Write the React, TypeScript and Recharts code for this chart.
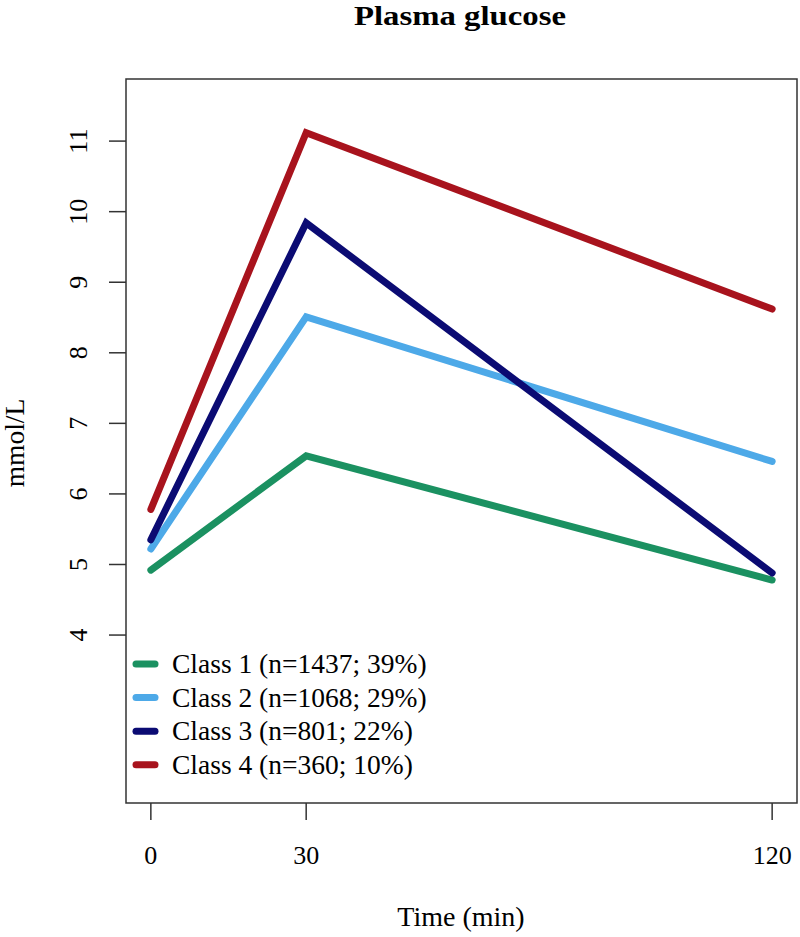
import React from 'react';
import { LineChart, Line, XAxis, YAxis, Legend, ReferenceArea, Label } from 'recharts';

const times = [0, 30, 120];
const class1 = [4.92, 6.54, 4.78];
const class2 = [5.22, 8.51, 6.46];
const class3 = [5.35, 9.84, 4.88];
const class4 = [5.78, 11.12, 8.62];
const seriesNames = [
  'Class 1 (n=1437; 39%)',
  'Class 2 (n=1068; 29%)',
  'Class 3 (n=801; 22%)',
  'Class 4 (n=360; 10%)',
];
const seriesColors = ['#1B9161', '#4DA9E8', '#0B0B73', '#A8131D'];
const xTicks = [0, 30, 120];
const yTicks = [4, 5, 6, 7, 8, 9, 10, 11];
const xDomain: [number, number] = [-4.8, 124.8];
const yDomain: [number, number] = [1.62, 11.88];
const title = 'Plasma glucose';
const xTitle = 'Time (min)';
const yTitle = 'mmol/L';

const data = times.map((t, i) => ({
  t,
  c1: class1[i],
  c2: class2[i],
  c3: class3[i],
  c4: class4[i],
}));
const keys = ['c1', 'c2', 'c3', 'c4'];

const FONT = '"Liberation Serif", "Times New Roman", serif';

const YTick = (props: any) => {
  const { y, payload } = props;
  return (
    <text
      x={87}
      y={y}
      transform={`rotate(-90 87 ${y})`}
      textAnchor="middle"
      fontSize={26}
      fontFamily={FONT}
      fill="#000"
    >
      {payload.value}
    </text>
  );
};

const XTick = (props: any) => {
  const { x, payload } = props;
  return (
    <text x={x} y={864} textAnchor="middle" fontSize={26} fontFamily={FONT} fill="#000">
      {payload.value}
    </text>
  );
};

const LegendContent = (props: any) => {
  const payload = props.payload || [];
  return (
    <svg width={800} height={937} style={{ position: 'absolute', left: 0, top: 0, overflow: 'visible', pointerEvents: 'none' }}>
      {payload.map((p: any, i: number) => {
        const cy = 664 + i * 33.6;
        return (
          <g key={i}>
            <line x1={136} x2={155} y1={cy} y2={cy} stroke={p.color} strokeWidth={7} strokeLinecap="round" />
            <text x={172} y={cy + 9} fontSize={27.5} fontFamily={FONT} fill="#000">
              {p.value}
            </text>
          </g>
        );
      })}
    </svg>
  );
};

export default function App() {
  return (
    <div style={{ position: 'absolute', left: 0, top: 0, width: 800, height: 937, background: '#fff' }}>
      <svg width={800} height={60} style={{ position: 'absolute', left: 0, top: 0 }}>
        <text
          x={460}
          y={25}
          textAnchor="middle"
          fontSize={28}
          fontWeight="bold"
          fontFamily={FONT}
          fill="#000"
          textLength={212}
          lengthAdjust="spacingAndGlyphs"
        >
          {title}
        </text>
      </svg>
      <div style={{ position: 'absolute', left: 0, top: 0 }}>
        <LineChart width={800} height={937} data={data} margin={{ top: 79, right: 3, bottom: 0, left: 0 }}>
          <XAxis
            dataKey="t"
            type="number"
            domain={xDomain}
            ticks={xTicks}
            allowDataOverflow
            height={134}
            tickSize={17}
            tickLine={{ stroke: '#333', strokeWidth: 1.5 }}
            axisLine={false}
            tick={<XTick />}
            interval={0}
          >
            <Label
              content={() => (
                <text x={461} y={926} textAnchor="middle" fontSize={28} fontFamily={FONT} fill="#000">
                  {xTitle}
                </text>
              )}
            />
          </XAxis>
          <YAxis
            type="number"
            domain={yDomain}
            ticks={yTicks}
            allowDataOverflow
            width={126}
            tickSize={17}
            tickLine={{ stroke: '#333', strokeWidth: 1.5 }}
            axisLine={false}
            tick={<YTick />}
            interval={0}
          >
            <Label
              content={() => (
                <text x={24} y={443} transform="rotate(-90 24 443)" textAnchor="middle" fontSize={27.5} fontFamily={FONT} fill="#000">
                  {yTitle}
                </text>
              )}
            />
          </YAxis>
          <ReferenceArea
            x1={xDomain[0]}
            x2={xDomain[1]}
            y1={yDomain[0]}
            y2={yDomain[1]}
            fill="none"
            fillOpacity={0}
            stroke="#333"
            strokeWidth={1.5}
            ifOverflow="visible"
          />
          {keys.map((k, i) => (
            <Line
              key={k}
              dataKey={k}
              name={seriesNames[i]}
              stroke={seriesColors[i]}
              strokeWidth={7}
              strokeLinecap="round"
              strokeLinejoin="miter"
              dot={false}
              activeDot={false}
              isAnimationActive={false}
            />
          ))}
          <Legend
            content={<LegendContent />}
            wrapperStyle={{ position: 'absolute', left: 0, top: 0, width: 800, height: 0 }}
          />
        </LineChart>
      </div>
    </div>
  );
}
